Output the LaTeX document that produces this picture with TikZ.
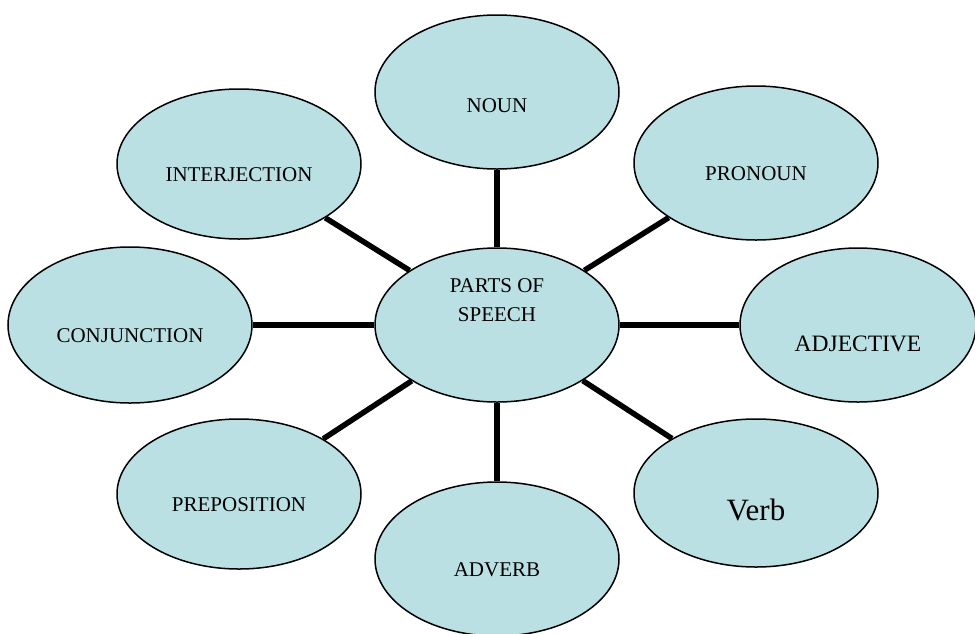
\documentclass[tikz,border=0pt]{standalone}
\usepackage{fontspec}
\setmainfont{Liberation Serif}
\usetikzlibrary{shapes.geometric}
\definecolor{partfill}{RGB}{186,224,227}

\begin{document}
\begin{tikzpicture}[x=1pt,y=-1pt,thick,
        part node/.style={ellipse,draw=black,line width=1.5pt,fill=partfill,minimum width=244pt,minimum height=154pt,inner sep=0pt},
        word/.style={font=\fontsize{21}{29}\selectfont,align=center},
        spoke/.style={draw=black,line width=5.5pt}]
            \useasboundingbox (0,0) rectangle (975,633);

            \node[part node,label={[word,yshift=25pt]center:PARTS OF\\SPEECH}] (hub) at (497,325) {};
            \node[part node,label={[word,yshift=-14pt]center:NOUN}] (noun) at (497,92) {};
            \node[part node,label={[word,yshift=-11pt]center:PRONOUN}] (pron) at (756,163) {};
            \node[part node,minimum width=236pt,label={[word,yshift=-19pt,font=\fontsize{23.5}{28}\selectfont]center:ADJECTIVE}] (adj) at (858,325) {};
            \node[part node,minimum height=148pt,label={[word,yshift=-17pt,font=\fontsize{31}{36}\selectfont]center:Verb}] (verb) at (756,493) {};
            \node[part node,label={[word,yshift=-11pt]center:ADVERB}] (adverb) at (497,559) {};
            \node[part node,minimum height=150pt,label={[word,yshift=-11pt]center:PREPOSITION}] (prep) at (239,494) {};
            \node[part node,minimum height=156pt,label={[word,yshift=-11pt]center:CONJUNCTION}] (conj) at (130,325) {};
            \node[part node,minimum height=150pt,label={[word,yshift=-11pt]center:INTERJECTION}] (interj) at (239,164) {};

            \path[spoke]
                (hub) edge (noun)
                (hub) edge (pron)
                (hub) edge (adj)
                (hub) edge (verb)
                (hub) edge (adverb)
                (hub) edge (prep)
                (hub) edge (conj)
                (hub) edge (interj)
                ;
        \end{tikzpicture}
\end{document}
